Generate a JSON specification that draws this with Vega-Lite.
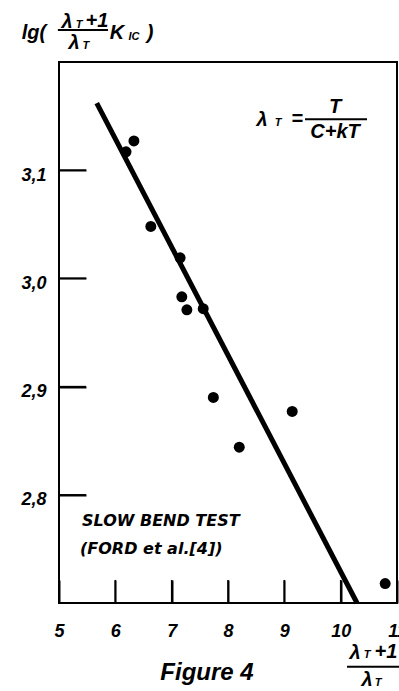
{
  "$schema": "https://vega.github.io/schema/vega-lite/v6.json",
  "width": 338,
  "height": 541,
  "autosize": {"type": "none"},
  "padding": {"left": 59, "top": 62, "right": 2, "bottom": 88},
  "background": "white",
  "config": {
    "view": {"stroke": "black", "strokeWidth": 2},
    "axis": {
      "grid": false,
      "domain": false,
      "ticks": true,
      "tickColor": "black",
      "tickWidth": 2,
      "tickOpacity": 1,
      "zindex": 1,
      "labelColor": "black",
      "labelFont": "Liberation Sans",
      "labelFontStyle": "italic",
      "labelFontWeight": "bold",
      "labelFontSize": 18
    },
    "text": {"font": "Liberation Sans", "fontStyle": "italic", "fontWeight": "bold", "color": "black"}
  },
  "datasets": {
    "points": [
      {"x": 6.33, "y": 3.127},
      {"x": 6.19, "y": 3.117},
      {"x": 6.63, "y": 3.048},
      {"x": 7.15, "y": 3.019},
      {"x": 7.18, "y": 2.983},
      {"x": 7.27, "y": 2.971},
      {"x": 7.56, "y": 2.972},
      {"x": 7.74, "y": 2.890},
      {"x": 8.20, "y": 2.844},
      {"x": 9.14, "y": 2.877},
      {"x": 10.79, "y": 2.718}
    ],
    "fit": [
      {"x": 5.67, "y": 3.162},
      {"x": 10.29, "y": 2.700}
    ],
    "xticks": [
      {"x": 6, "y": 2.7, "y2": 2.7213},
      {"x": 7, "y": 2.7, "y2": 2.7213},
      {"x": 8, "y": 2.7, "y2": 2.7213},
      {"x": 9, "y": 2.7, "y2": 2.7213},
      {"x": 10, "y": 2.7, "y2": 2.7213}
    ],
    "yticks": [
      {"x": 5, "x2": 5.48, "y": 2.8},
      {"x": 5, "x2": 5.48, "y": 2.9},
      {"x": 5, "x2": 5.48, "y": 3.0},
      {"x": 5, "x2": 5.48, "y": 3.1}
    ],
    "note": [
      {"x": 5.408, "y": 2.776, "t": "SLOW BEND TEST"},
      {"x": 5.373, "y": 2.750, "t": "(FORD et al.[4])"}
    ],
    "caption": [
      {"x": 7.627, "y": 2.635, "t": "Figure 4"}
    ],
    "bigtext": [
      {"x": 4.556, "y": 3.227, "t": "lg("},
      {"x": 5.142, "y": 3.237, "t": "λ"},
      {"x": 5.675, "y": 3.238, "t": "+1"},
      {"x": 5.266, "y": 3.2176, "t": "λ"},
      {"x": 6.03, "y": 3.227, "t": "K"},
      {"x": 6.615, "y": 3.227, "t": ")"},
      {"x": 8.604, "y": 3.146, "t": "λ"},
      {"x": 9.225, "y": 3.147, "t": "="},
      {"x": 9.90, "y": 3.158, "t": "T"},
      {"x": 9.90, "y": 3.135, "t": "C+kT"},
      {"x": 10.255, "y": 2.654, "t": "λ"},
      {"x": 10.805, "y": 2.655, "t": "+1"},
      {"x": 10.468, "y": 2.629, "t": "λ"}
    ],
    "smalltext": [
      {"x": 5.355, "y": 3.234, "t": "T"},
      {"x": 5.479, "y": 3.215, "t": "T"},
      {"x": 6.33, "y": 3.223, "t": "IC"},
      {"x": 8.888, "y": 3.144, "t": "T"},
      {"x": 10.468, "y": 2.652, "t": "T"},
      {"x": 10.663, "y": 2.626, "t": "T"}
    ],
    "bars": [
      {"x": 4.98, "x2": 5.87, "y": 3.2296},
      {"x": 9.367, "x2": 10.468, "y": 3.147},
      {"x": 10.113, "x2": 11.036, "y": 2.641}
    ]
  },
  "encoding": {
    "x": {"field": "x", "type": "quantitative", "title": null,
          "scale": {"domain": [5, 11], "nice": false, "zero": false},
          "axis": {"orient": "bottom", "values": [5, 6, 7, 8, 9, 10, 11], "offset": -23, "tickSize": 23, "labelPadding": 19, "labelFlush": false, "format": "d"}},
    "y": {"field": "y", "type": "quantitative", "title": null,
          "scale": {"domain": [2.7, 3.2], "nice": false, "zero": false},
          "axis": {"orient": "left", "values": [2.8, 2.9, 3.0, 3.1], "offset": -27, "tickSize": 27, "labelPadding": 13, "labelOffset": 5,
                   "labelExpr": "replace(format(datum.value, '.1f'), '.', ',')"}}
  },
  "layer": [
    {
      "data": {"name": "fit"},
      "mark": {"type": "line", "color": "black", "strokeWidth": 5}
    },
    {
      "data": {"name": "xticks"},
      "mark": {"type": "rule", "color": "black", "strokeWidth": 1.5},
      "encoding": {"y2": {"field": "y2"}}
    },
    {
      "data": {"name": "yticks"},
      "mark": {"type": "rule", "color": "black", "strokeWidth": 1.5},
      "encoding": {"x2": {"field": "x2"}}
    },
    {
      "data": {"name": "points"},
      "mark": {"type": "point", "filled": true, "color": "black", "opacity": 1, "size": 120}
    },
    {
      "data": {"name": "note"},
      "mark": {"type": "text", "align": "left", "baseline": "middle", "fontSize": 16, "font": "DejaVu Sans"},
      "encoding": {"text": {"field": "t"}}
    },
    {
      "data": {"name": "caption"},
      "mark": {"type": "text", "align": "center", "baseline": "middle", "fontSize": 24},
      "encoding": {"text": {"field": "t"}}
    },
    {
      "data": {"name": "bigtext"},
      "mark": {"type": "text", "align": "center", "baseline": "middle", "fontSize": 20},
      "encoding": {"text": {"field": "t"}}
    },
    {
      "data": {"name": "smalltext"},
      "mark": {"type": "text", "align": "center", "baseline": "middle", "fontSize": 11},
      "encoding": {"text": {"field": "t"}}
    },
    {
      "data": {"name": "bars"},
      "mark": {"type": "rule", "color": "black", "strokeWidth": 2},
      "encoding": {"x2": {"field": "x2"}}
    }
  ]
}
